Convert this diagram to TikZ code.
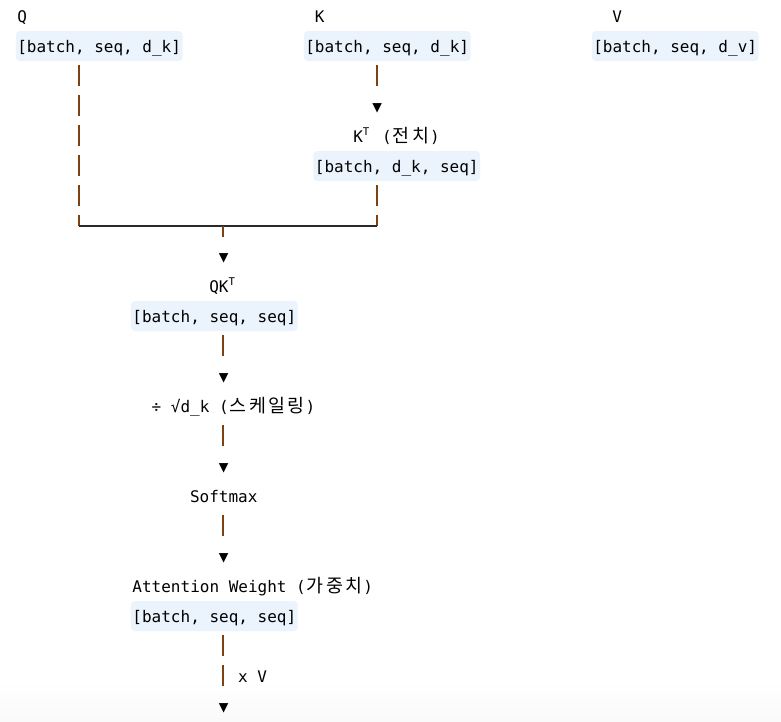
\documentclass[tikz,border=0pt]{standalone}
\usepackage{fontspec}
\setmonofont{DejaVu Sans Mono}
\newfontfamily\krfont[Scale=1.15]{Noto Sans CJK KR}
\usetikzlibrary{calc}
\definecolor{codebg}{HTML}{EBF3FD}
\definecolor{barc}{HTML}{7E4112}
\definecolor{hl}{HTML}{2A2A2A}
\newcommand\hg[1]{\makebox[14.4pt]{\krfont #1}}
\newcommand\supT{\makebox[7.2pt][l]{\raisebox{0.42em}{\fontsize{8}{8}\selectfont T}}}
\begin{document}
\begin{tikzpicture}[x=0.75pt,y=-0.75pt,
  txt/.style={anchor=west, inner xsep=1.125pt, inner ysep=0pt,
    text height=15.75pt, text depth=6.75pt,
    font=\ttfamily\fontsize{12}{12}\selectfont, text=black},
  codebox/.style={txt, fill=codebg, rounded corners=3pt},
  bar/.style={draw=barc, line width=1.5pt, dash pattern=on 15.75pt off 6.75pt},
  hline/.style={draw=hl, line width=1.1pt}]
\useasboundingbox (0,0) rectangle (781,721);
\fill[white] (0,0) rectangle (781,721);
\shade[top color=white, bottom color=black!2] (0,680) rectangle (781,721);
% column centres
\coordinate (c6) at (79,0);
\coordinate (c21) at (223,0);
\coordinate (c37) at (377,0);
% inputs
\node[txt] (Q) at (15.5,16) {Q};
\node[codebox] (qb) at (15.5,46) {[batch, seq, d\_k]};
\node[txt] (K) at (313.1,16) {K};
\node[codebox] (kb) at (303.5,46) {[batch, seq, d\_k]};
\node[txt] (V) at (610.7,16) {V};
\node[codebox] (vb) at (591.5,46) {[batch, seq, d\_v]};
% transpose
\node[txt] (a1) at (370.7,106) {▼};
\node[txt] (kt) at (351.5,136) {K\supT{} (\hg{전}\hg{치})};
\node[codebox] (ktb) at (313.1,166) {[batch, d\_k, seq]};
% junction
\coordinate (jl) at (79,226);
\coordinate (jr) at (377,226);
\coordinate (jm) at (223,226);
% main column
\node[txt] (a2) at (217.1,256) {▼};
\node[txt] (qk) at (207.5,286) {QK\supT};
\node[codebox] (qkb) at (130.7,316) {[batch, seq, seq]};
\node[txt] (a3) at (217.1,376) {▼};
\node[txt] (sc) at (149.9,406) {÷ √d\_k (\hg{스}\hg{케}\hg{일}\hg{링})};
\node[txt] (a4) at (217.1,466) {▼};
\node[txt] (sm) at (188.3,496) {Softmax};
\node[txt] (a5) at (217.1,556) {▼};
\node[txt] (aw) at (130.7,586) {Attention Weight (\hg{가}\hg{중}\hg{치})};
\node[codebox] (awb) at (130.7,616) {[batch, seq, seq]};
\node[txt] (xv) at (236.3,676) {x V};
\node[txt] (a6) at (217.1,706) {▼};
% connectors
\draw[bar] ([yshift=-3pt]qb.south -| c6) -- (jl);
\draw[bar] ([yshift=-3pt]kb.south -| c37) -- (a1.north -| c37);
\draw[bar] ([yshift=-3pt]ktb.south -| c37) -- (jr);
\draw[hline] (jl) -- (jr);
\draw[bar] (jm) -- ([yshift=3pt]a2.north -| c21);
\draw[bar] ([yshift=-3pt]qkb.south -| c21) -- (a3.north -| c21);
\draw[bar] ([yshift=-3pt]sc.south -| c21) -- (a4.north -| c21);
\draw[bar] ([yshift=-3pt]sm.south -| c21) -- (a5.north -| c21);
\draw[bar] ([yshift=-3pt]awb.south -| c21) -- (a6.north -| c21);
\end{tikzpicture}
\end{document}
